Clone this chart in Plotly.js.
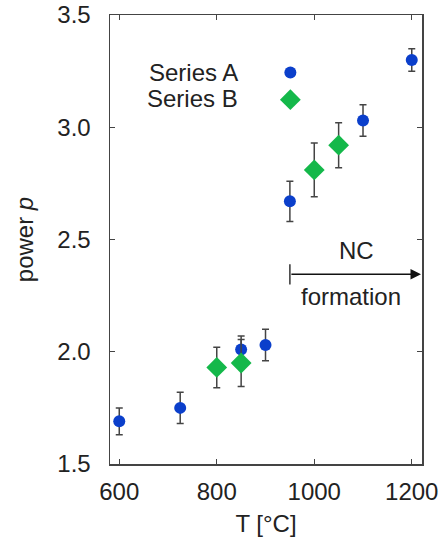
<!DOCTYPE html>
<html>
<head>
<meta charset="utf-8">
<script src="https://cdn.plot.ly/plotly-3.0.1.min.js"></script>
<style>html,body{margin:0;padding:0;background:#fff;}#chart{width:442px;height:544px;}</style>
</head>
<body>
<div id="chart"></div>
<script>
// Series A
var seriesAName = "Series A";
var tempA = [600, 725, 850, 900, 950, 1100, 1200];
var powerA = [1.69, 1.75, 2.01, 2.03, 2.67, 3.03, 3.30];
var errA = [0.06, 0.07, 0.06, 0.07, 0.09, 0.07, 0.05];
// Series B
var seriesBName = "Series B";
var tempB = [800, 850, 1000, 1050];
var powerB = [1.93, 1.95, 2.81, 2.92];
var errB = [0.09, 0.105, 0.12, 0.10];
// axis ticks
var xTicks = [600, 800, 1000, 1200];
var yTicks = [1.5, 2.0, 2.5, 3.0, 3.5];

var FONT = "Liberation Sans, Arial, Helvetica, sans-serif";
var FS = 24;
var TXT = "#222";
var AX = "#444";

var errStyle = {type: "data", visible: true, color: "#444", thickness: 1.5, width: 3.5};

var traceA = {
  x: tempA, y: powerA, name: " ", type: "scatter", mode: "markers",
  error_y: Object.assign({array: errA}, errStyle),
  marker: {symbol: "circle", size: 12, color: "#0b3fcb"},
  hovertext: seriesAName
};
var traceB = {
  x: tempB, y: powerB, name: " ", type: "scatter", mode: "markers",
  error_y: Object.assign({array: errB}, errStyle),
  marker: {symbol: "diamond", size: 16, color: "#14b84a"},
  hovertext: seriesBName
};

var layout = {
  width: 442, height: 544,
  margin: {l: 110, r: 20, t: 15, b: 80},
  paper_bgcolor: "#fff", plot_bgcolor: "#fff",
  font: {family: FONT, size: FS, color: TXT},
  showlegend: true,
  legend: {x: 0.514, y: 0.913, xanchor: "left", yanchor: "top", bgcolor: "rgba(0,0,0,0)",
           font: {size: 18.5}, tracegroupgap: 0},
  xaxis: {
    range: [581, 1221], tickvals: xTicks, ticktext: xTicks.map(String),
    ticks: "inside", ticklen: 5, tickwidth: 1.2, tickcolor: AX,
    showline: true, linecolor: AX, linewidth: 1.5, mirror: "ticks",
    showgrid: false, zeroline: false,
    tickfont: {size: FS, color: TXT}, ticklabelstandoff: 6,
    title: {text: "T [°C]", font: {size: FS, color: TXT}, standoff: 11}
  },
  yaxis: {
    range: [1.5, 3.5], tickvals: yTicks, ticktext: yTicks.map(function(v){return v.toFixed(1);}),
    ticks: "inside", ticklen: 5, tickwidth: 1.2, tickcolor: AX,
    showline: true, linecolor: AX, linewidth: 1.5, mirror: "ticks",
    showgrid: false, zeroline: false,
    tickfont: {size: FS, color: TXT}, ticklabelstandoff: 13,
    title: {text: "power <i>p</i>", font: {size: FS, color: TXT}, standoff: 17}
  },
  shapes: [
    {type: "line", xref: "x", yref: "y", x0: 950, x1: 950, y0: 2.30, y1: 2.39,
     line: {color: "#333", width: 1.5}}
  ],
  annotations: [
    {xref: "x", yref: "y", x: 1219, y: 2.345, ax: 950, ay: 2.345, axref: "x", ayref: "y",
     text: "", showarrow: true, arrowhead: 2, arrowsize: 1.4, arrowwidth: 1.5, arrowcolor: "#111"},
    {xref: "x", yref: "y", x: 1086, y: 2.45, text: "NC", showarrow: false,
     font: {size: FS, color: TXT}},
    {xref: "x", yref: "y", x: 1076, y: 2.245, text: "formation", showarrow: false,
     font: {size: FS, color: TXT}},
    {xref: "paper", yref: "paper", x: 0.418, y: 0.872, xanchor: "right", yanchor: "middle",
     text: seriesAName, showarrow: false, font: {size: FS, color: TXT}},
    {xref: "paper", yref: "paper", x: 0.418, y: 0.815, xanchor: "right", yanchor: "middle",
     text: seriesBName, showarrow: false, font: {size: FS, color: TXT}}
  ]
};

Plotly.newPlot("chart", [traceA, traceB], layout, {displayModeBar: false, staticPlot: true});
</script>
</body>
</html>
